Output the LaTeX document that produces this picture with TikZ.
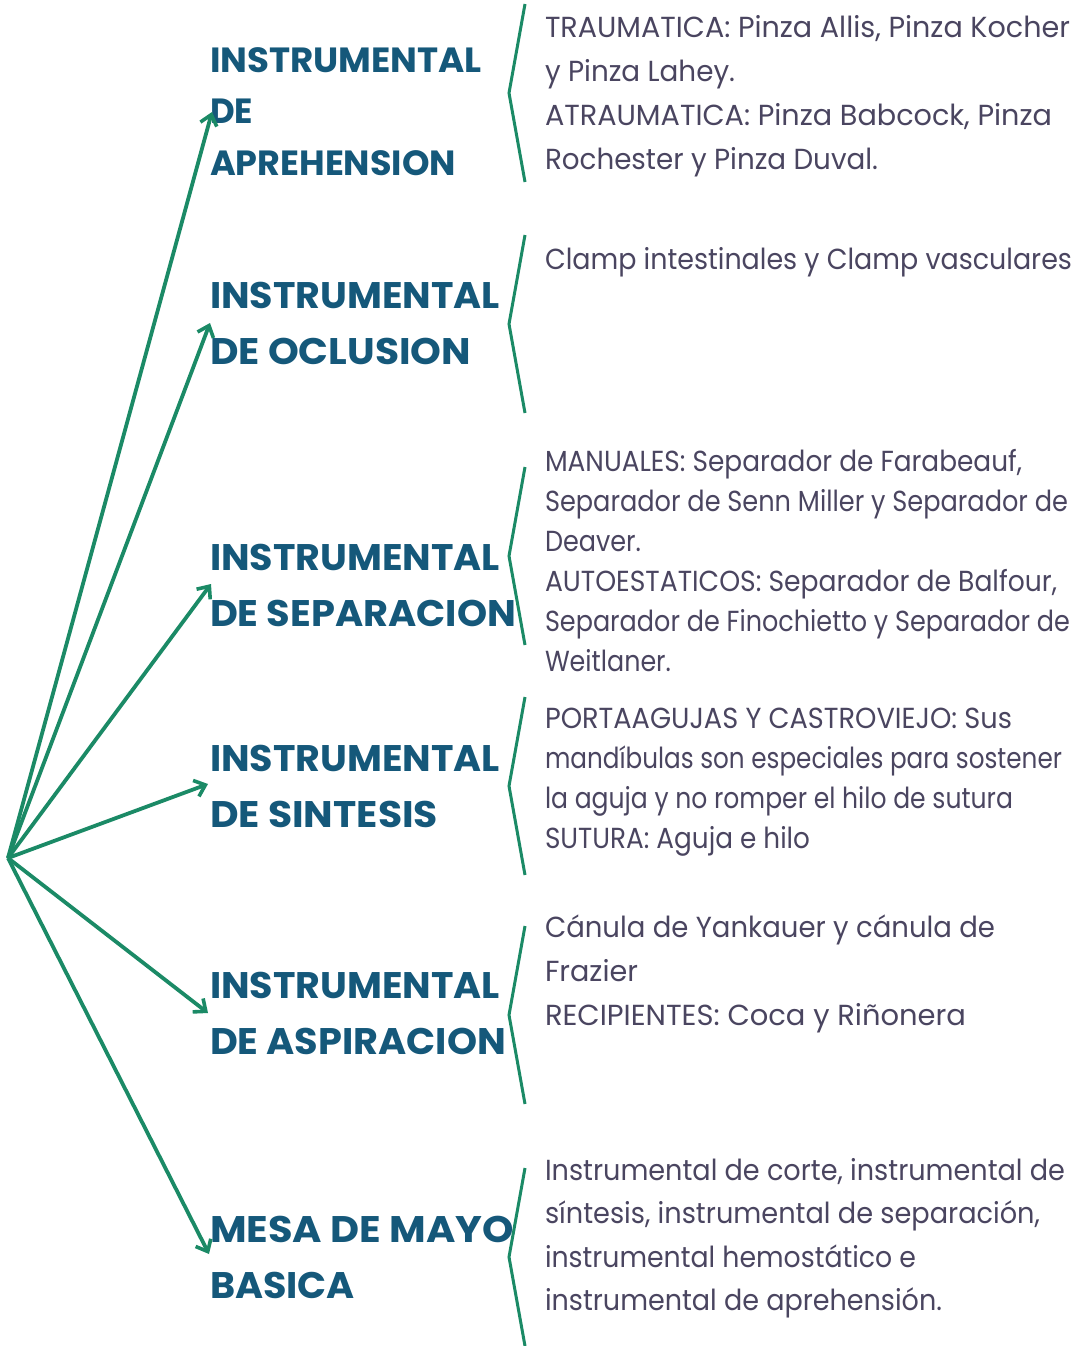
\documentclass[tikz,border=0pt]{standalone}
\usepackage{fontspec}
\usepackage{graphicx}
\setmainfont{Poppins}
\newfontfamily\headfont{Poppins}[UprightFont=* Bold]
\usetikzlibrary{arrows.meta}
\definecolor{headc}{HTML}{15587A}
\definecolor{bodyc}{HTML}{4A4560}
\definecolor{linec}{HTML}{1B8A66}
\newcommand\fw[2]{\resizebox{#1pt}{\height}{#2}}
\tikzset{
  head/.style={anchor=base west,inner sep=0pt,outer sep=0pt,text=headc,font=\headfont\fontsize{37}{37}\selectfont},
  headsm/.style={head,font=\headfont\fontsize{35}{35}\selectfont},
  body/.style={anchor=base west,inner sep=0pt,outer sep=0pt,text=bodyc,font=\fontsize{29}{29}\selectfont},
  arr/.style={draw=linec,line width=3.8pt,-{Straight Barb[length=10pt,width=17pt,line width=3.6pt]}},
  brace/.style={draw=linec,line width=3pt,line join=miter},
}
\begin{document}
\begin{tikzpicture}[x=1pt,y=-1pt]
\useasboundingbox (0,0) rectangle (1086,1346);
% headings
\node[headsm] (h1a) at (210,72) {\fw{272}{INSTRUMENTAL}};
\node[headsm] (h1b) at (210,123) {\fw{43}{DE}};
\node[headsm] (h1c) at (210,175) {\fw{246}{APREHENSION}};
\node[head] (h2a) at (210,308) {\fw{290}{INSTRUMENTAL}};
\node[head] (h2b) at (210,364) {\fw{261}{DE OCLUSION}};
\node[head] (h3a) at (210,570) {\fw{290}{INSTRUMENTAL}};
\node[head] (h3b) at (210,626) {\fw{306}{DE SEPARACION}};
\node[head] (h4a) at (210,771) {\fw{290}{INSTRUMENTAL}};
\node[head] (h4b) at (210,827) {\fw{228}{DE SINTESIS}};
\node[head] (h5a) at (210,998) {\fw{290}{INSTRUMENTAL}};
\node[head] (h5b) at (210,1054) {\fw{296}{DE ASPIRACION}};
\node[head] (h6a) at (210,1242) {\fw{304}{MESA DE MAYO}};
\node[head] (h6b) at (210,1298) {\fw{145}{BASICA}};
% arrows
\coordinate (o) at (8,858);
\coordinate (t1) at (212,112);
\coordinate (t2) at (210,323);
\coordinate (t3) at (211,584);
\coordinate (t4) at (208,784);
\coordinate (t5) at (208,1013);
\coordinate (t6) at (209,1254);
\foreach \t in {t1,t2,t3,t4,t5,t6} \draw[arr] (o) -- (\t);
% braces
\foreach \y in {4,235,467,697,926,1168} {
  \draw[brace] (525,\y) -- (509,\y+89) -- (525,\y+178);
}
% body texts
\node[body] (b1a) at (545,38) {\fw{525}{TRAUMATICA: Pinza Allis, Pinza Kocher}};
\node[body] (b1b) at (545,82) {\fw{190}{y Pinza Lahey.}};
\node[body] (b1c) at (545,125) {\fw{507}{ATRAUMATICA: Pinza Babcock, Pinza}};
\node[body] (b1d) at (545,169) {\fw{333}{Rochester y Pinza Duval.}};
\node[body] (b2a) at (545,269) {\fw{527}{Clamp intestinales y Clamp vasculares}};
\node[body] (b3a) at (545,471) {\fw{477}{MANUALES: Separador de Farabeauf,}};
\node[body] (b3b) at (545,511) {\fw{523}{Separador de Senn Miller y Separador de}};
\node[body] (b3c) at (545,551) {\fw{96}{Deaver.}};
\node[body] (b3d) at (545,591) {\fw{512}{AUTOESTATICOS: Separador de Balfour,}};
\node[body] (b3e) at (545,631) {\fw{525}{Separador de Finochietto y Separador de}};
\node[body] (b3f) at (545,671) {\fw{126}{Weitlaner.}};
\node[body] (b4a) at (545,728) {\fw{467}{PORTAAGUJAS Y CASTROVIEJO: Sus}};
\node[body] (b4b) at (545,768) {\fw{517}{mandíbulas son especiales para sostener}};
\node[body] (b4c) at (545,808) {\fw{468}{la aguja y no romper el hilo de sutura}};
\node[body] (b4d) at (545,848) {\fw{265}{SUTURA: Aguja e hilo}};
\node[body] (b5a) at (545,937) {\fw{450}{Cánula de Yankauer y cánula de}};
\node[body] (b5b) at (545,981) {\fw{93}{Frazier}};
\node[body] (b5c) at (545,1025) {\fw{421}{RECIPIENTES: Coca y Riñonera}};
\node[body] (b6a) at (545,1180) {\fw{520}{Instrumental de corte, instrumental de}};
\node[body] (b6b) at (545,1223) {\fw{495}{síntesis, instrumental de separación,}};
\node[body] (b6c) at (545,1267) {\fw{371}{instrumental hemostático e}};
\node[body] (b6d) at (545,1310) {\fw{397}{instrumental de aprehensión.}};
\end{tikzpicture}
\end{document}
